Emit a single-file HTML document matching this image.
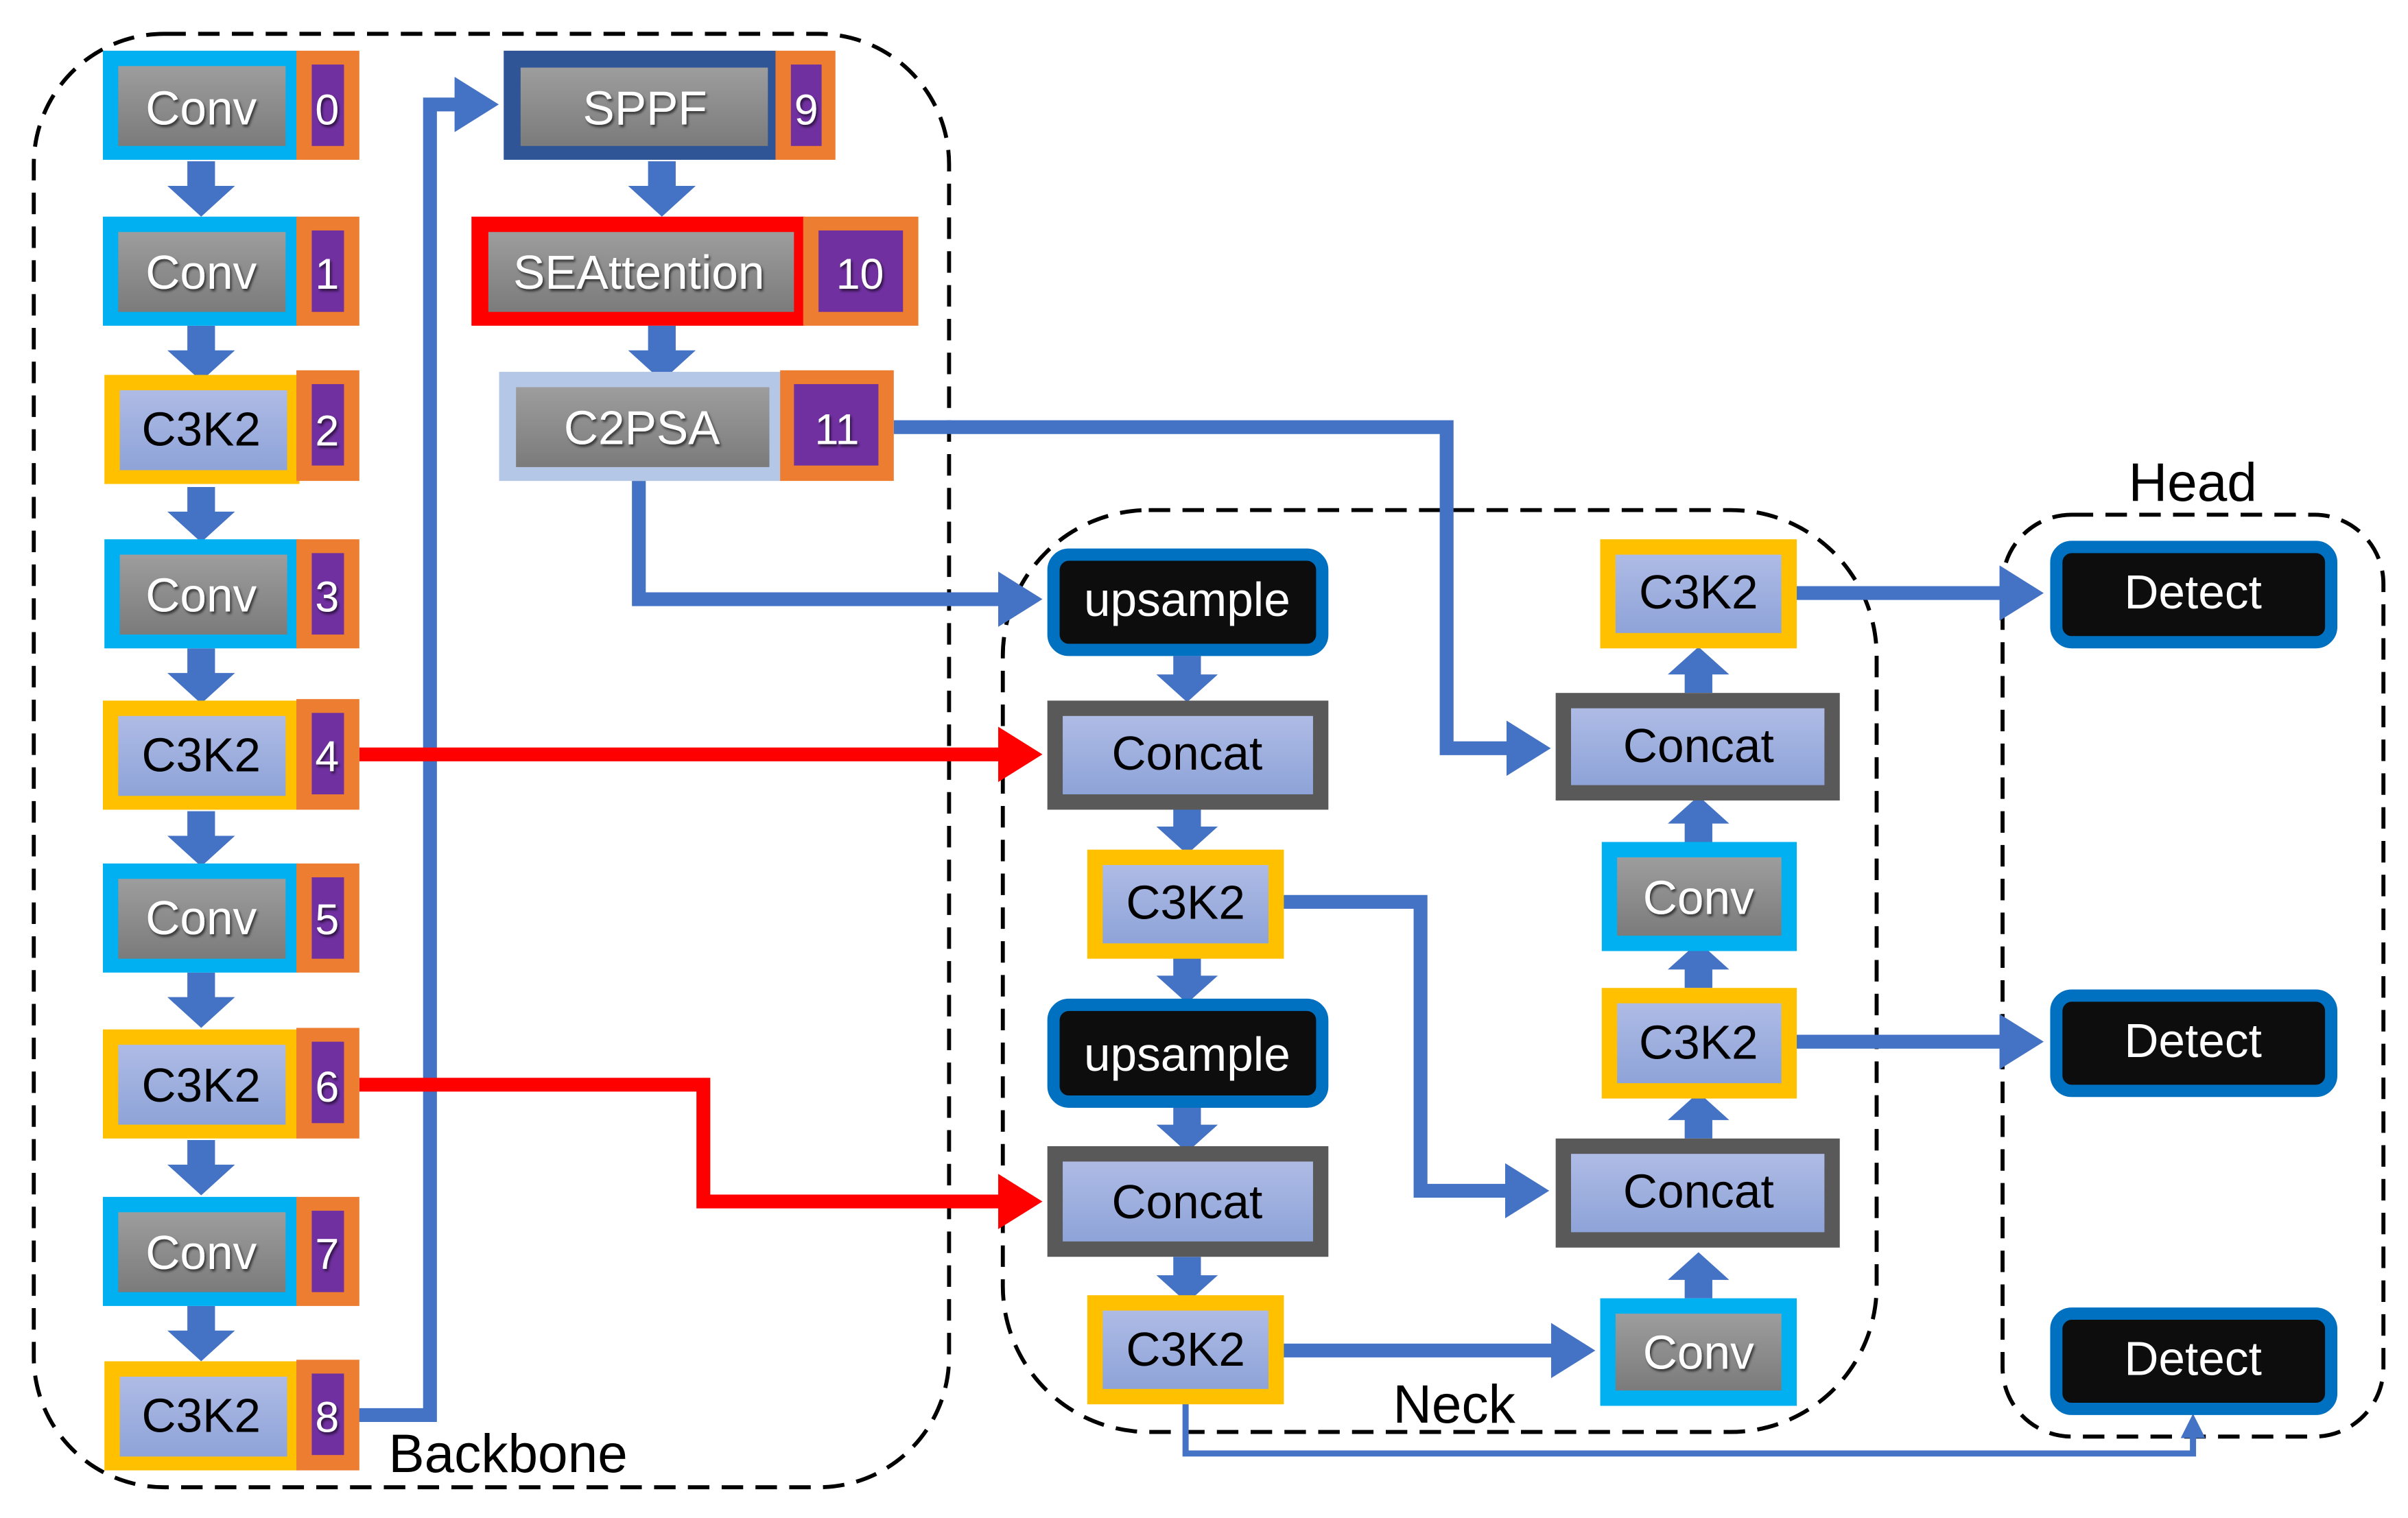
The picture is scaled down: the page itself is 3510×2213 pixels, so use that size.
<!DOCTYPE html>
<html><head><meta charset="utf-8"><style>
html,body{margin:0;padding:0;background:#fff;}
svg{display:block;}
text{font-family:"Liberation Sans",sans-serif;}
</style></head><body>
<svg width="3510" height="2213" viewBox="0 0 1568 988" preserveAspectRatio="none" xmlns="http://www.w3.org/2000/svg">
<defs>
<linearGradient id="g" x1="0" y1="0" x2="0" y2="1"><stop offset="0" stop-color="#9d9d9d"/><stop offset="1" stop-color="#7b7b7b"/></linearGradient>
<linearGradient id="p" x1="0" y1="0" x2="0" y2="1"><stop offset="0" stop-color="#aebbe5"/><stop offset="1" stop-color="#8ea3d8"/></linearGradient>
<marker id="ab" markerWidth="4" markerHeight="4" refX="2" refY="2" orient="auto" markerUnits="strokeWidth"><path d="M0,0L3.2,2L0,4Z" fill="#4472C4"/></marker>
<marker id="ar" markerWidth="4" markerHeight="4" refX="2" refY="2" orient="auto" markerUnits="strokeWidth"><path d="M0,0L3.2,2L0,4Z" fill="#FF0000"/></marker>
<marker id="as" markerWidth="5" markerHeight="5" refX="2" refY="2.5" orient="auto" markerUnits="strokeWidth"><path d="M0,0.5L4,2.5L0,4.5Z" fill="#4472C4"/></marker>
<filter id="sh"><feDropShadow dx="1" dy="1.5" stdDeviation="0.8" flood-color="#000" flood-opacity="0.6"/></filter>
</defs>

<g fill="none" stroke="#000" stroke-width="2.6" stroke-dasharray="14 8">
<rect x="22" y="22" width="596" height="946" rx="85"/>
<rect x="653" y="332" width="569" height="600" rx="95"/>
<rect x="1304" y="335" width="248" height="600" rx="45"/>
</g>

<g fill="none" stroke="#4472C4" stroke-width="9">
<polyline points="230,921 280,921 280,68 314,68" marker-end="url(#ab)"/>
<polyline points="582,278 942,278 942,487 999,487" marker-end="url(#ab)"/>
<polyline points="416,313 416,390 668,390" marker-end="url(#ab)"/>
<polyline points="835,587 925,587 925,775 998,775" marker-end="url(#ab)"/>
<polyline points="835,879 1028,879" marker-end="url(#ab)"/>
<polyline points="1169,386 1320,386" marker-end="url(#ab)"/>
<polyline points="1169,678 1320,678" marker-end="url(#ab)"/>
</g>
<polyline points="772,913 772,946 1428,946 1428,928" fill="none" stroke="#4472C4" stroke-width="4" marker-end="url(#as)"/>
<g fill="none" stroke="#FF0000" stroke-width="9">
<polyline points="234,491 668,491" marker-end="url(#ar)"/>
<polyline points="234,706 458,706 458,782 668,782" marker-end="url(#ar)"/>
</g>

<g fill="#4472C4">
<path id="ad" d="M-9,0H9V16H22L0,36L-22,16H-9Z" transform="translate(131,105)"/>
<use href="#ad" transform="translate(0,107)"/>
<use href="#ad" transform="translate(0,212)"/>
<use href="#ad" transform="translate(0,317)"/>
<use href="#ad" transform="translate(0,423)"/>
<use href="#ad" transform="translate(0,528)"/>
<use href="#ad" transform="translate(0,637)"/>
<use href="#ad" transform="translate(0,745)"/>
<use href="#ad" transform="translate(300,0)"/>
<use href="#ad" transform="translate(300,107)"/>
<path d="M-9,0H9V12H20L0,30L-20,12H-9Z" transform="translate(773,427)"/>
<path d="M-9,0H9V12H20L0,30L-20,12H-9Z" transform="translate(773,526)"/>
<path d="M-9,0H9V12H20L0,30L-20,12H-9Z" transform="translate(773,623)"/>
<path d="M-9,0H9V12H20L0,30L-20,12H-9Z" transform="translate(773,720)"/>
<path d="M-9,0H9V12H20L0,30L-20,12H-9Z" transform="translate(773,818)"/>
<path d="M-9,0H9V-12H20L0,-30L-20,-12H-9Z" transform="translate(1106,451)"/>
<path d="M-9,0H9V-12H20L0,-30L-20,-12H-9Z" transform="translate(1106,548)"/>
<path d="M-9,0H9V-12H20L0,-30L-20,-12H-9Z" transform="translate(1106,643)"/>
<path d="M-9,0H9V-12H20L0,-30L-20,-12H-9Z" transform="translate(1106,741)"/>
<path d="M-9,0H9V-12H20L0,-30L-20,-12H-9Z" transform="translate(1106,845)"/>
</g>

<g font-size="31" text-anchor="middle">
<g>
<rect x="67" y="33" width="127" height="71" fill="#00B0F0"/><rect x="77" y="43" width="109" height="52" fill="url(#g)"/>
<rect x="193" y="33" width="41" height="71" fill="#ED7D31"/><rect x="203" y="42" width="21" height="53" fill="#7030A0"/>
<text x="131" y="81" fill="#fff" filter="url(#sh)">Conv</text><text x="213" y="81" fill="#fff" font-size="28" filter="url(#sh)">0</text>
</g>
<g>
<rect x="67" y="141" width="127" height="71" fill="#00B0F0"/><rect x="77" y="151" width="109" height="52" fill="url(#g)"/>
<rect x="193" y="141" width="41" height="71" fill="#ED7D31"/><rect x="203" y="150" width="21" height="53" fill="#7030A0"/>
<text x="131" y="188" fill="#fff" filter="url(#sh)">Conv</text><text x="213" y="188" fill="#fff" font-size="28" filter="url(#sh)">1</text>
</g>
<g>
<rect x="68" y="244" width="127" height="71" fill="#FFC000"/><rect x="78" y="254" width="109" height="52" fill="url(#p)"/>
<rect x="193" y="241" width="41" height="72" fill="#ED7D31"/><rect x="203" y="250" width="21" height="53" fill="#7030A0"/>
<text x="131" y="290" fill="#000">C3K2</text><text x="213" y="290" fill="#fff" font-size="28" filter="url(#sh)">2</text>
</g>
<g>
<rect x="68" y="351" width="127" height="71" fill="#00B0F0"/><rect x="78" y="361" width="109" height="52" fill="url(#g)"/>
<rect x="193" y="351" width="41" height="71" fill="#ED7D31"/><rect x="203" y="360" width="21" height="53" fill="#7030A0"/>
<text x="131" y="398" fill="#fff" filter="url(#sh)">Conv</text><text x="213" y="398" fill="#fff" font-size="28" filter="url(#sh)">3</text>
</g>
<g>
<rect x="67" y="456" width="127" height="71" fill="#FFC000"/><rect x="77" y="466" width="109" height="52" fill="url(#p)"/>
<rect x="193" y="455" width="41" height="72" fill="#ED7D31"/><rect x="203" y="464" width="21" height="53" fill="#7030A0"/>
<text x="131" y="502" fill="#000">C3K2</text><text x="213" y="502" fill="#fff" font-size="28" filter="url(#sh)">4</text>
</g>
<g>
<rect x="67" y="562" width="127" height="71" fill="#00B0F0"/><rect x="77" y="572" width="109" height="52" fill="url(#g)"/>
<rect x="193" y="562" width="41" height="71" fill="#ED7D31"/><rect x="203" y="571" width="21" height="53" fill="#7030A0"/>
<text x="131" y="608" fill="#fff" filter="url(#sh)">Conv</text><text x="213" y="608" fill="#fff" font-size="28" filter="url(#sh)">5</text>
</g>
<g>
<rect x="67" y="670" width="127" height="71" fill="#FFC000"/><rect x="77" y="680" width="109" height="52" fill="url(#p)"/>
<rect x="193" y="669" width="41" height="72" fill="#ED7D31"/><rect x="203" y="678" width="21" height="53" fill="#7030A0"/>
<text x="131" y="717" fill="#000">C3K2</text><text x="213" y="717" fill="#fff" font-size="28" filter="url(#sh)">6</text>
</g>
<g>
<rect x="67" y="779" width="127" height="71" fill="#00B0F0"/><rect x="77" y="789" width="109" height="52" fill="url(#g)"/>
<rect x="193" y="779" width="41" height="71" fill="#ED7D31"/><rect x="203" y="788" width="21" height="53" fill="#7030A0"/>
<text x="131" y="826" fill="#fff" filter="url(#sh)">Conv</text><text x="213" y="826" fill="#fff" font-size="28" filter="url(#sh)">7</text>
</g>
<g>
<rect x="68" y="886" width="127" height="71" fill="#FFC000"/><rect x="78" y="896" width="109" height="52" fill="url(#p)"/>
<rect x="193" y="885" width="41" height="72" fill="#ED7D31"/><rect x="203" y="894" width="21" height="53" fill="#7030A0"/>
<text x="131" y="932" fill="#000">C3K2</text><text x="213" y="932" fill="#fff" font-size="28" filter="url(#sh)">8</text>
</g>

<rect x="328" y="33" width="178" height="71" fill="#2F5597"/><rect x="339" y="44" width="161" height="51" fill="url(#g)"/>
<rect x="505" y="33" width="39" height="71" fill="#ED7D31"/><rect x="515" y="42" width="20" height="53" fill="#7030A0"/>
<text x="420" y="81" fill="#fff" filter="url(#sh)">SPPF</text><text x="525" y="81" fill="#fff" font-size="28" filter="url(#sh)">9</text>

<rect x="307" y="141" width="217" height="71" fill="#FF0000"/><rect x="318" y="151" width="199" height="52" fill="url(#g)"/>
<rect x="523" y="141" width="75" height="71" fill="#ED7D31"/><rect x="533" y="150" width="55" height="53" fill="#7030A0"/>
<text x="416" y="188" fill="#fff" filter="url(#sh)">SEAttention</text><text x="560" y="188" fill="#fff" font-size="28" filter="url(#sh)">10</text>

<rect x="325" y="242" width="184" height="71" fill="#B4C7E7"/><rect x="336" y="252" width="165" height="52" fill="url(#g)"/>
<rect x="508" y="241" width="74" height="72" fill="#ED7D31"/><rect x="517" y="250" width="55" height="53" fill="#7030A0"/>
<text x="418" y="289" fill="#fff" filter="url(#sh)">C2PSA</text><text x="545" y="289" fill="#fff" font-size="28" filter="url(#sh)">11</text>

<rect x="686" y="361" width="175" height="62" rx="10" fill="#0D0D0D" stroke="#0070C0" stroke-width="8"/>
<text x="773" y="401" fill="#fff">upsample</text>
<rect x="682" y="456" width="183" height="71" fill="#595959"/><rect x="692" y="466" width="163" height="51" fill="url(#p)"/>
<text x="773" y="501" fill="#000">Concat</text>
<rect x="708" y="553" width="128" height="71" fill="#FFC000"/><rect x="718" y="563" width="108" height="51" fill="url(#p)"/>
<text x="772" y="598" fill="#000">C3K2</text>
<rect x="686" y="654" width="175" height="63" rx="10" fill="#0D0D0D" stroke="#0070C0" stroke-width="8"/>
<text x="773" y="697" fill="#fff">upsample</text>
<rect x="682" y="746" width="183" height="72" fill="#595959"/><rect x="692" y="756" width="163" height="52" fill="url(#p)"/>
<text x="773" y="793" fill="#000">Concat</text>
<rect x="708" y="843" width="128" height="71" fill="#FFC000"/><rect x="718" y="853" width="108" height="51" fill="url(#p)"/>
<text x="772" y="889" fill="#000">C3K2</text>

<rect x="1042" y="351" width="128" height="71" fill="#FFC000"/><rect x="1052" y="361" width="108" height="51" fill="url(#p)"/>
<text x="1106" y="396" fill="#000">C3K2</text>
<rect x="1013" y="451" width="185" height="70" fill="#595959"/><rect x="1023" y="461" width="165" height="50" fill="url(#p)"/>
<text x="1106" y="496" fill="#000">Concat</text>
<rect x="1043" y="548" width="127" height="71" fill="#00B0F0"/><rect x="1053" y="558" width="107" height="51" fill="url(#g)"/>
<text x="1106" y="595" fill="#fff" filter="url(#sh)">Conv</text>
<rect x="1043" y="643" width="127" height="72" fill="#FFC000"/><rect x="1053" y="653" width="107" height="52" fill="url(#p)"/>
<text x="1106" y="689" fill="#000">C3K2</text>
<rect x="1013" y="741" width="185" height="71" fill="#595959"/><rect x="1023" y="751" width="165" height="51" fill="url(#p)"/>
<text x="1106" y="786" fill="#000">Concat</text>
<rect x="1042" y="845" width="128" height="70" fill="#00B0F0"/><rect x="1052" y="855" width="108" height="50" fill="url(#g)"/>
<text x="1106" y="891" fill="#fff" filter="url(#sh)">Conv</text>

<rect x="1339" y="356" width="179" height="62" rx="10" fill="#0D0D0D" stroke="#0070C0" stroke-width="8"/>
<text x="1428" y="396" fill="#fff">Detect</text>
<rect x="1339" y="648" width="179" height="62" rx="10" fill="#0D0D0D" stroke="#0070C0" stroke-width="8"/>
<text x="1428" y="688" fill="#fff">Detect</text>
<rect x="1339" y="855" width="179" height="62" rx="10" fill="#0D0D0D" stroke="#0070C0" stroke-width="8"/>
<text x="1428" y="895" fill="#fff">Detect</text>
</g>

<g font-size="35" fill="#000">
<text x="253" y="958">Backbone</text>
<text x="907" y="926">Neck</text>
<text x="1386" y="326">Head</text>
</g>
</svg>
</body></html>
